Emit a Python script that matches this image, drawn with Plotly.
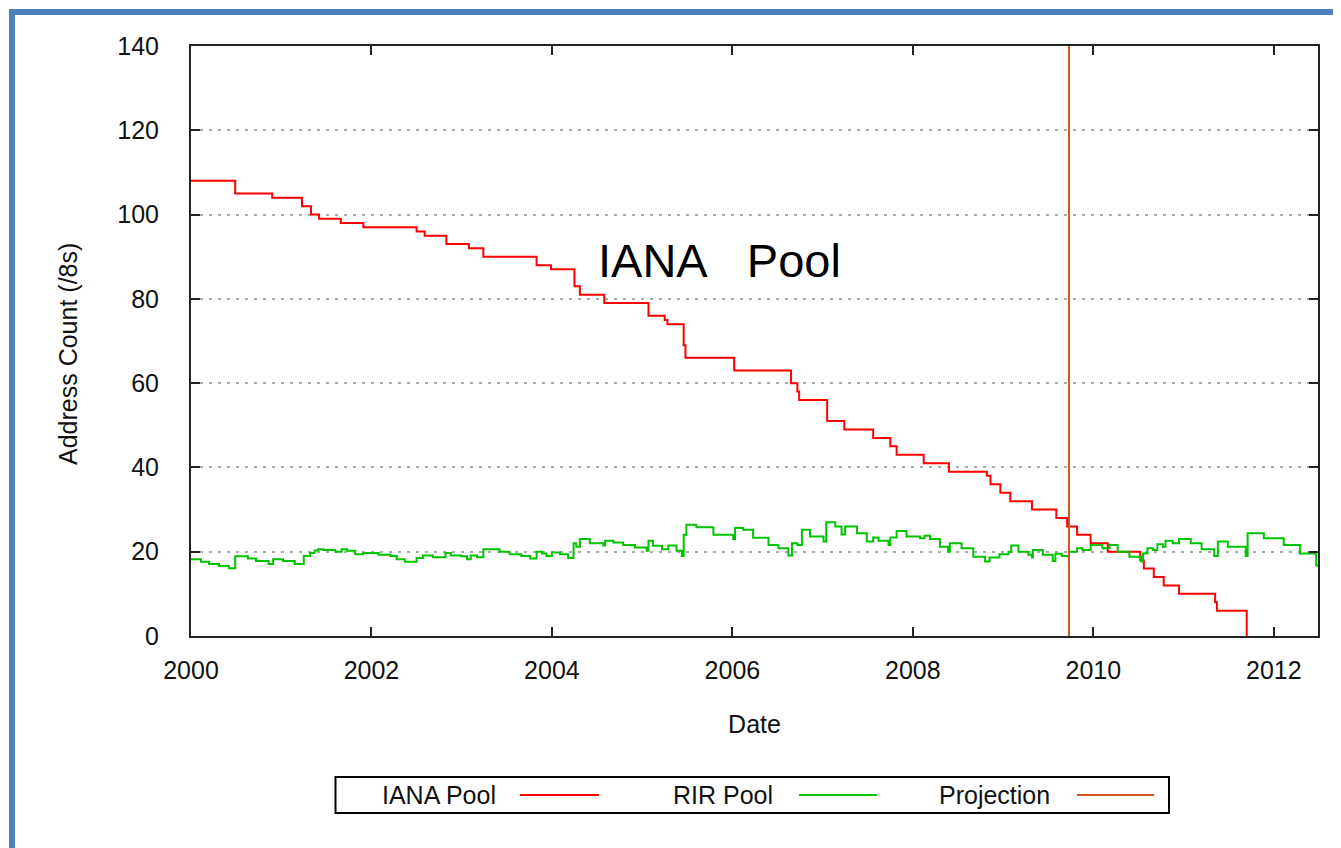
import plotly.graph_objects as go

# ---- data ----
IANA_YEARS = [2000.00, 2000.49, 2000.90, 2001.23, 2001.33, 2001.42, 2001.66, 2001.91,
              2002.50, 2002.59, 2002.83, 2003.08, 2003.24, 2003.83, 2003.99, 2004.25,
              2004.31, 2004.58, 2005.07, 2005.25, 2005.28, 2005.46, 2005.48, 2006.02,
              2006.65, 2006.72, 2006.74, 2007.05, 2007.24, 2007.56, 2007.75, 2007.82,
              2008.12, 2008.40, 2008.82, 2008.86, 2008.97, 2009.08, 2009.32, 2009.59,
              2009.71, 2009.82, 2009.97, 2010.16, 2010.52, 2010.56, 2010.67, 2010.78,
              2010.95, 2011.35, 2011.37, 2011.70]
IANA_COUNT = [108, 105, 104, 102, 100, 99, 98, 97,
              96, 95, 93, 92, 90, 88, 87, 83,
              81, 79, 76, 75, 74, 69, 66, 63,
              60, 58, 56, 51, 49, 47, 45, 43,
              41, 39, 38, 36, 34, 32, 30, 28,
              26, 24, 22, 20, 18, 16, 14, 12,
              10, 8, 6, 0]

RIR_YEARS = [2000.00, 2000.11, 2000.20, 2000.31, 2000.42, 2000.49, 2000.63, 2000.72,
             2000.86, 2000.91, 2001.02, 2001.15, 2001.25, 2001.32, 2001.37, 2001.41,
             2001.47, 2001.60, 2001.67, 2001.73, 2001.82, 2001.91, 2002.08, 2002.21,
             2002.28, 2002.37, 2002.50, 2002.57, 2002.68, 2002.82, 2002.88, 2002.99,
             2003.06, 2003.10, 2003.17, 2003.24, 2003.42, 2003.53, 2003.66, 2003.76,
             2003.83, 2003.89, 2003.94, 2004.00, 2004.09, 2004.18, 2004.24, 2004.27,
             2004.31, 2004.42, 2004.57, 2004.59, 2004.68, 2004.79, 2004.92, 2005.05,
             2005.07, 2005.12, 2005.22, 2005.29, 2005.38, 2005.44, 2005.46, 2005.49,
             2005.60, 2005.79, 2006.01, 2006.03, 2006.12, 2006.23, 2006.40, 2006.51,
             2006.62, 2006.66, 2006.72, 2006.77, 2006.86, 2007.01, 2007.04, 2007.14,
             2007.21, 2007.25, 2007.38, 2007.49, 2007.56, 2007.62, 2007.73, 2007.75,
             2007.82, 2007.93, 2008.08, 2008.13, 2008.19, 2008.30, 2008.39, 2008.41,
             2008.54, 2008.67, 2008.80, 2008.85, 2008.96, 2009.06, 2009.09, 2009.17,
             2009.28, 2009.32, 2009.33, 2009.44, 2009.55, 2009.58, 2009.65, 2009.73,
             2009.82, 2009.88, 2009.97, 2010.10, 2010.18, 2010.27, 2010.40, 2010.53,
             2010.55, 2010.60, 2010.66, 2010.71, 2010.77, 2010.80, 2010.88, 2010.95,
             2011.08, 2011.20, 2011.34, 2011.38, 2011.49, 2011.69, 2011.71, 2011.89,
             2012.11, 2012.29, 2012.47, 2012.50]
RIR_COUNT = [18.2, 17.6, 17.1, 16.6, 16.1, 18.9, 18.4, 17.8,
             17.1, 18.2, 17.8, 17.1, 19.0, 19.7, 20.3, 20.6,
             20.4, 20.0, 20.6, 20.2, 19.4, 19.7, 19.3, 19.0,
             18.2, 17.6, 18.5, 19.1, 18.7, 19.7, 19.1, 18.9,
             18.2, 19.1, 18.7, 20.6, 20.0, 19.4, 19.0, 18.4,
             20.0, 19.6, 19.0, 19.8, 19.4, 18.5, 22.0, 21.2,
             23.0, 22.0, 21.5, 22.6, 22.2, 21.6, 21.0, 20.2,
             22.6, 21.4, 20.6, 21.5, 20.2, 19.0, 24.0, 26.4,
             25.8, 24.0, 23.0, 25.6, 25.2, 23.3, 21.6, 20.8,
             19.1, 22.0, 21.6, 25.2, 23.6, 22.4, 27.0, 26.0,
             24.1, 26.0, 24.4, 22.4, 23.4, 22.6, 21.6, 23.4,
             24.9, 23.6, 23.2, 23.8, 23.0, 21.2, 20.0, 22.0,
             20.8, 18.8, 17.7, 18.6, 19.4, 20.0, 21.5, 20.0,
             19.3, 18.6, 20.4, 19.3, 17.8, 19.5, 19.0, 20.0,
             20.8, 20.4, 21.6, 20.8, 21.6, 20.0, 18.8, 17.7,
             19.6, 20.8, 20.4, 21.8, 21.2, 22.6, 22.0, 23.0,
             22.0, 20.6, 19.0, 22.4, 21.2, 19.0, 24.4, 23.2,
             21.6, 19.6, 16.7, 16.5]

PROJECTION_YEAR = 2009.73
PROJECTION_SPAN = [0, 140]

X_TICKS = [2000, 2002, 2004, 2006, 2008, 2010, 2012]
Y_TICKS = [0, 20, 40, 60, 80, 100, 120, 140]
X_RANGE = [2000, 2012.49]
Y_RANGE = [0, 140]

SERIES_NAMES = ["IANA Pool", "RIR Pool", "Projection"]
COLORS = ["#ff0000", "#00c400", "#cc5520"]

# ---- figure ----
W, H = 1341, 848
OFF = 8  # page body margin; the figure is drawn 8px in from the page corner
# target plot area in page pixels: left 191, right 1318, top 46, bottom 636
ML, MT = 191 - OFF, 46 - OFF
MR = W - (1318 - OFF)
MB = H - (636 - OFF)
FONT = "Liberation Sans, Arial, sans-serif"

fig = go.Figure()
fig.add_trace(go.Scatter(x=IANA_YEARS, y=IANA_COUNT, mode="lines", name=SERIES_NAMES[0],
                         line=dict(color=COLORS[0], width=2, shape="hv")))
fig.add_trace(go.Scatter(x=RIR_YEARS, y=RIR_COUNT, mode="lines", name=SERIES_NAMES[1],
                         line=dict(color=COLORS[1], width=2, shape="hv")))
fig.add_trace(go.Scatter(x=[PROJECTION_YEAR, PROJECTION_YEAR], y=PROJECTION_SPAN, mode="lines",
                         name=SERIES_NAMES[2], line=dict(color=COLORS[2], width=2)))

pw = W - ML - MR
ph = H - MT - MB


def px_x(p):
    """page pixel x -> paper coordinate"""
    return (p - OFF - ML) / pw


def px_y(p):
    """page pixel y -> paper coordinate"""
    return (H - MB - (p - OFF)) / ph


shapes = []
annotations = []

# outer blue frame (top and left visible)
shapes.append(dict(type="rect", xref="paper", yref="paper",
                   x0=px_x(12), x1=px_x(1420), y0=px_y(960), y1=px_y(12),
                   line=dict(color="#4f81bd", width=6), fillcolor="rgba(0,0,0,0)", layer="above"))

# legend box (text followed by line sample, gnuplot style)
shapes.append(dict(type="rect", xref="paper", yref="paper",
                   x0=px_x(335.5), x1=px_x(1169), y0=px_y(813), y1=px_y(777),
                   line=dict(color="#000000", width=2), fillcolor="white"))
legend_text_right = [498, 775, 1052]
legend_line_span = [(520, 599), (799, 877), (1077, 1154)]
for name, color, tx, (l0, l1) in zip(SERIES_NAMES, COLORS, legend_text_right, legend_line_span):
    annotations.append(dict(xref="paper", yref="paper", x=px_x(tx), y=px_y(795),
                            xanchor="right", yanchor="middle", showarrow=False, text=name,
                            font=dict(family=FONT, size=25, color="#111111")))
    shapes.append(dict(type="line", xref="paper", yref="paper",
                       x0=px_x(l0), x1=px_x(l1), y0=px_y(795), y1=px_y(795),
                       line=dict(color=color, width=2)))

# y axis title (placed slightly below the plot centre, as in the reference)
annotations.append(dict(xref="paper", yref="paper", x=px_x(68), y=px_y(354),
                        xanchor="center", yanchor="middle", showarrow=False, textangle=-90,
                        text="Address Count (/8s)",
                        font=dict(family=FONT, size=25, color="#111111")))

# big in-plot label
annotations.append(dict(xref="x", yref="y", x=2004.49, y=89, xanchor="left", yanchor="middle",
                        showarrow=False, text="IANA\u00a0\u00a0 Pool",
                        font=dict(family=FONT, size=47, color="#000000")))

fig.update_layout(
    width=W, height=H,
    margin=dict(l=ML, r=MR, t=MT, b=MB),
    paper_bgcolor="white", plot_bgcolor="white",
    showlegend=False,
    shapes=shapes, annotations=annotations,
    font=dict(family=FONT, size=25, color="#111111"),
)
fig.update_xaxes(
    range=X_RANGE, tickvals=X_TICKS, ticktext=[str(t) for t in X_TICKS],
    ticks="inside", ticklen=9, tickwidth=2, tickcolor="#222222",
    showline=True, linecolor="#222222", linewidth=2, mirror="ticks",
    showgrid=False, zeroline=False, ticklabelstandoff=11,
    title=dict(text="Date", standoff=32, font=dict(family=FONT, size=25)),
    tickfont=dict(family=FONT, size=25, color="#111111"),
)
fig.update_yaxes(
    range=Y_RANGE, tickvals=Y_TICKS, ticktext=[str(t) for t in Y_TICKS],
    ticks="inside", ticklen=9, tickwidth=2, tickcolor="#222222",
    showline=True, linecolor="#222222", linewidth=2, mirror="ticks",
    showgrid=True, gridcolor="#aaaaaa", gridwidth=2, griddash="3px,6px",
    zeroline=False, ticklabelstandoff=25,
    tickfont=dict(family=FONT, size=25, color="#111111"),
)

fig.write_html("out.html")
